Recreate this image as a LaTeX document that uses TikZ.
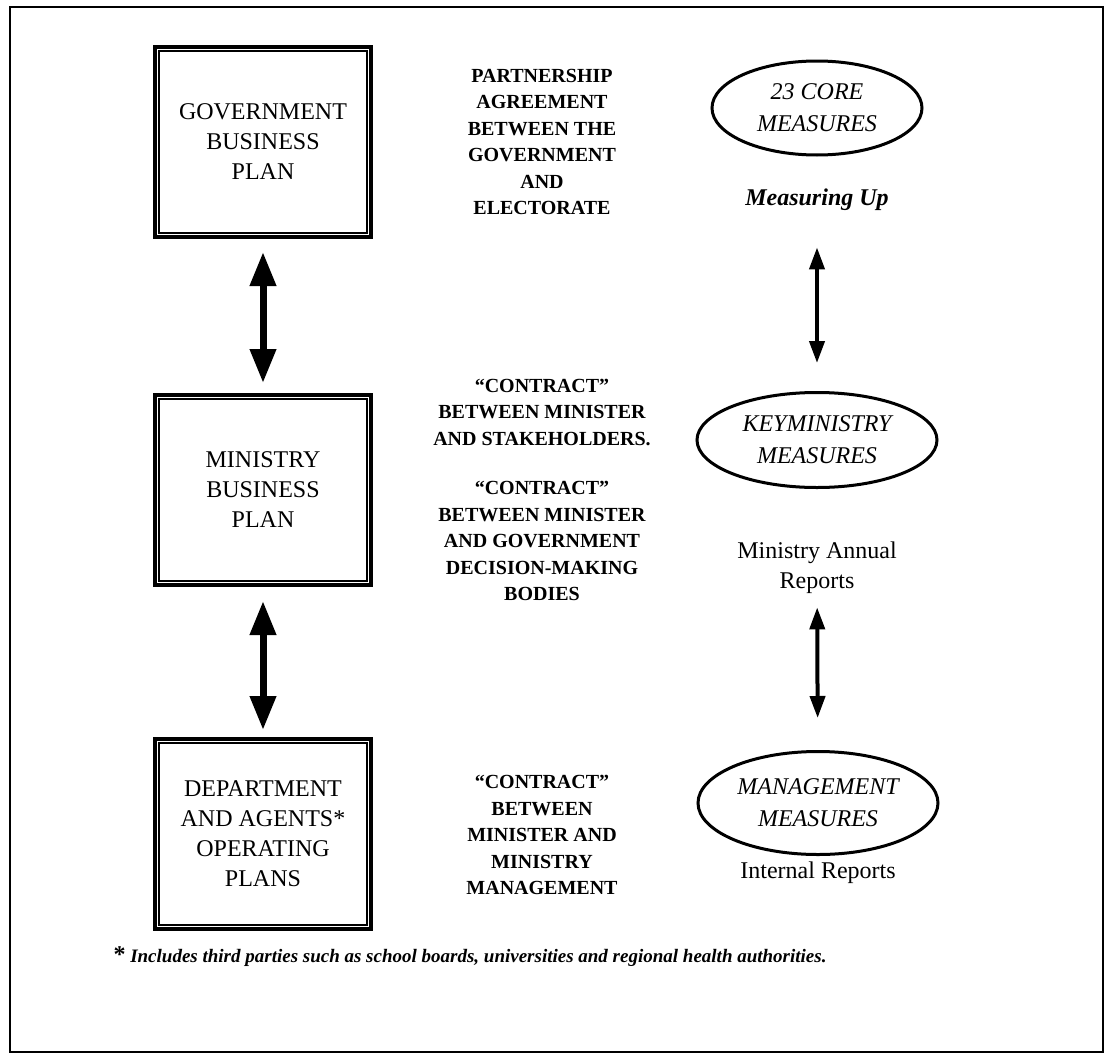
\documentclass[tikz,border=0pt]{standalone}
\usepackage{fontspec}
\setmainfont{Liberation Serif}
\usetikzlibrary{arrows.meta,shapes.geometric,positioning}
\tikzset{
	planbox/.style={draw, line width=4pt, minimum width=216pt, minimum height=190pt, inner sep=0pt, align=center, font=\fontsize{24}{30}\selectfont},
	measure/.style={draw, ellipse, line width=3pt, inner sep=0pt, align=center, font=\fontsize{24}{32}\selectfont\itshape},
	contract/.style={align=center, font=\fontsize{20}{26.5}\selectfont\bfseries},
	report/.style={align=center, font=\fontsize{24}{30}\selectfont},
	bigarrow/.style={{Triangle[width=25pt,length=34pt]}-{Triangle[width=25pt,length=34pt]}, line width=7pt},
	smallarrow/.style={{Triangle[width=15pt,length=22pt]}-{Triangle[width=15pt,length=22pt]}, line width=4pt},
}
\newcommand\innerline[1]{
	\draw[line width=1.6pt] ([shift={(6pt,-6pt)}]#1.north west) rectangle ([shift={(-6pt,6pt)}]#1.south east);
}
\begin{document}
\begin{tikzpicture}[x=1pt,y=-1pt]
	\useasboundingbox (0,0) rectangle (1104,1055);
	% frame
	\draw[line width=2pt] (10,7) rectangle (1103,1052);
	
	% plans
	\node[planbox] (gov) at (263,142) {GOVERNMENT\\BUSINESS\\PLAN};
	\node[planbox] (min) at (263,490) {MINISTRY\\BUSINESS\\PLAN};
	\node[planbox] (dept) at (263,834) {DEPARTMENT\\AND AGENTS*\\OPERATING\\PLANS};
	\foreach \n in {gov,min,dept} {
		\innerline{\n}
	}
	\draw[bigarrow, shorten <=13pt, shorten >=10pt] (gov) -- (min);
	\draw[bigarrow, shorten <=14pt, shorten >=7pt] (min) -- (dept);
	
	% contracts
	\node[contract] (partner) at (542,142) {PARTNERSHIP\\AGREEMENT\\BETWEEN THE\\GOVERNMENT\\AND\\ELECTORATE};
	\node[contract] (stake) at (542,490) {``CONTRACT''\\BETWEEN MINISTER\\AND STAKEHOLDERS.\\[23pt]``CONTRACT''\\BETWEEN MINISTER\\AND GOVERNMENT\\DECISION-MAKING\\BODIES};
	\node[contract] (mgmt) at (542,835) {``CONTRACT''\\BETWEEN\\MINISTER AND\\MINISTRY\\MANAGEMENT};
	
	% measures
	\node[measure, minimum width=210pt, minimum height=94pt] (core) at (817,108) {23 CORE\\MEASURES};
	\node[report, font=\fontsize{24}{30}\selectfont\bfseries\itshape] (mup) at (817,200) {Measuring Up};
	\node[measure, minimum width=240pt, minimum height=95pt] (key) at (817,440) {KEYMINISTRY\\MEASURES};
	\node[report] (annual) at (817,568) {Ministry Annual\\Reports};
	\node[measure, minimum width=240pt, minimum height=103pt] (mm) at (818,803) {MANAGEMENT\\MEASURES};
	\node[report] (internal) at (818,873) {Internal Reports};
	\draw[smallarrow, shorten <=33pt, shorten >=28pt] (mup) -- (key);
	\draw[smallarrow, shorten <=10pt, shorten >=32pt] (annual) -- (mm);
	
	% note
	\node[anchor=west, font=\fontsize{19}{22}\selectfont\bfseries\itshape] (note) at (110,957) {{\upshape\fontsize{24}{22}\selectfont*} Includes third parties such as school boards, universities and regional health authorities.};
\end{tikzpicture}
\end{document}
